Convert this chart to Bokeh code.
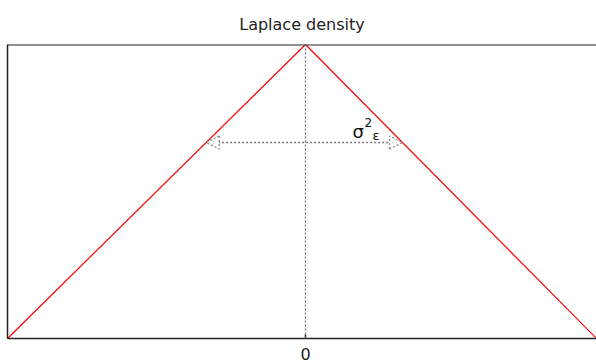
from bokeh.plotting import figure
from bokeh.models import Range1d, LinearAxis, FixedTicker, Span, Arrow, NormalHead, Label
from bokeh.embed import file_html
from bokeh.resources import INLINE

# Log-density of a Laplace distribution: a tent that falls linearly away from the centre
density_x = [-3.0, 0.0, 2.93]
log_density = [-3.0, 0.0, -3.0]
tick_positions = [0]
tick_labels = {0: "0"}
spread_level = -1.0  # height at which the spread arrow is drawn

FONT = "DejaVu Sans"
EDGE = "#222222"

p = figure(
    width=596, height=364,
    output_backend="svg", toolbar_location=None,
    x_range=Range1d(density_x[0], density_x[-1]),
    y_range=Range1d(min(log_density), max(log_density)),
    x_axis_type=None, y_axis_type=None,
    min_border_left=7, min_border_right=0, min_border_top=44, min_border_bottom=26,
    background_fill_color="white", border_fill_color="white",
)
p.outline_line_color = None

p.title.text = "Laplace density"
p.title.align = "center"
p.title.text_font = FONT
p.title.text_font_size = "16px"
p.title.text_font_style = "normal"
p.title.text_color = EDGE
p.title.offset = 3
p.title.standoff = 22

def frame_axis(ticks, **kw):
    ax = LinearAxis(ticker=FixedTicker(ticks=ticks), **kw)
    ax.axis_line_color = EDGE
    ax.axis_line_width = 1.5
    ax.major_tick_line_color = EDGE
    ax.major_tick_line_width = 1.5
    ax.major_tick_in = 4
    ax.major_tick_out = 0
    ax.minor_tick_in = 0
    ax.minor_tick_out = 0
    ax.major_label_text_font = FONT
    ax.major_label_text_font_size = "16px"
    ax.major_label_text_color = EDGE
    return ax

bottom = frame_axis(tick_positions, major_label_overrides=tick_labels)
bottom.major_label_standoff = 9
p.add_layout(bottom, "below")
left = frame_axis([])
left.major_label_standoff = 0
left.axis_label_standoff = 0
p.add_layout(left, "left")

# top edge of the box
p.add_layout(Span(location=max(log_density), dimension="width", line_color=EDGE, line_width=2))

# vertical dotted line through the centre
p.add_layout(Span(location=0, dimension="height", line_color="#777777",
                  line_dash="2 2", line_width=1.3))

# the density itself
p.line(density_x, log_density, line_color="#ff0000", line_width=1.2)

# spread arrow between the two flanks at spread_level
x_left = density_x[0] * spread_level / log_density[0]
x_right = density_x[-1] * spread_level / log_density[-1]
head = dict(size=13, line_color="#888888", line_dash="2 2", line_width=1.3, fill_color=None)
p.add_layout(Arrow(x_start=x_left, y_start=spread_level, x_end=x_right, y_end=spread_level,
                   start=NormalHead(**head), end=NormalHead(**head),
                   line_color="#777777", line_dash="2 2", line_width=1.3))

# sigma^2_epsilon label
lab = dict(x=0, y=spread_level, text_font=FONT, text_color="#111111", text_baseline="alphabetic")
p.add_layout(Label(text="σ", x_offset=47, y_offset=11, text_font_size="18px", **lab))
p.add_layout(Label(text="2", x_offset=59, y_offset=20, text_font_size="12px", **lab))
p.add_layout(Label(text="ε", x_offset=67, y_offset=7, text_font_size="13px", **lab))

open("out.html", "w").write(file_html(p, INLINE))
